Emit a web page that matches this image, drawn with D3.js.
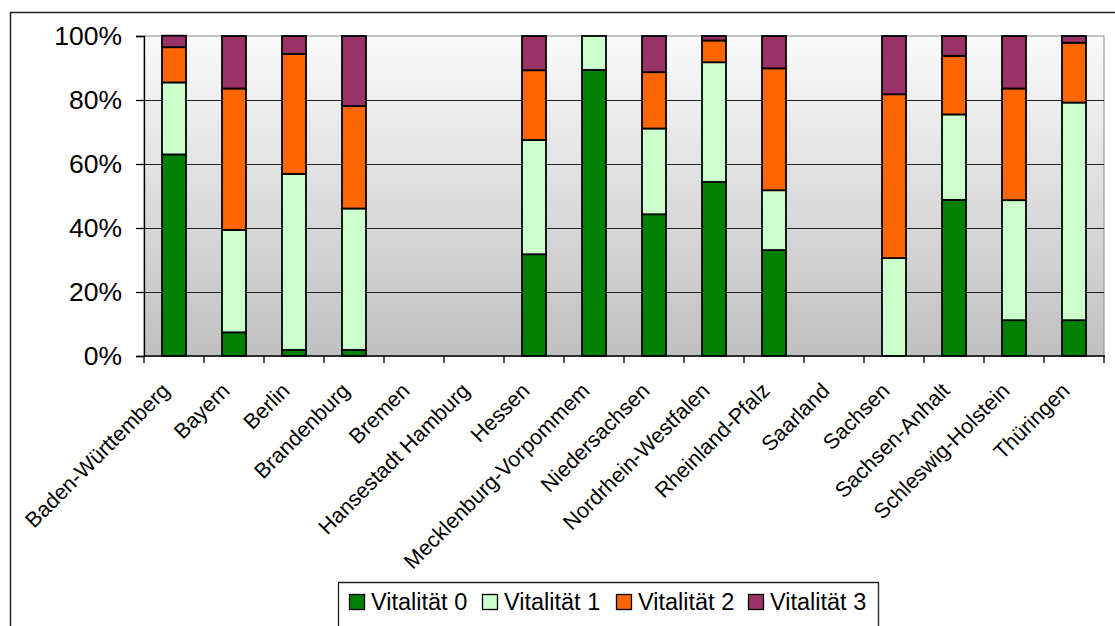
<!DOCTYPE html>
<html>
<head>
<meta charset="utf-8">
<script src="https://cdn.jsdelivr.net/npm/d3@7/dist/d3.min.js"></script>
<style>
  html, body { margin: 0; padding: 0; background: #fff; }
  svg { display: block; font-family: "Liberation Sans", Arial, sans-serif; }
</style>
</head>
<body>
<svg id="chart" width="1115" height="626"></svg>
<script>
// Federal states (x categories)
const states = [
  "Baden-Württemberg", "Bayern", "Berlin", "Brandenburg", "Bremen",
  "Hansestadt Hamburg", "Hessen", "Mecklenburg-Vorpommem", "Niedersachsen",
  "Nordrhein-Westfalen", "Rheinland-Pfalz", "Saarland", "Sachsen",
  "Sachsen-Anhalt", "Schleswig-Holstein", "Thüringen"
];

// Share of trees per vitality class (percent)
const vitalitaet0 = [63.0, 7.4, 1.9, 1.9, 0, 0, 31.8, 89.4, 44.3, 54.4, 33.1, 0, 0, 48.8, 11.2, 11.2];
const vitalitaet1 = [22.5, 32.0, 55.0, 44.2, 0, 0, 35.7, 10.6, 26.8, 37.4, 18.7, 0, 30.6, 26.7, 37.5, 68.0];
const vitalitaet2 = [11.0, 44.2, 37.5, 32.0, 0, 0, 21.8, 0, 17.6, 6.8, 38.1, 0, 51.2, 18.3, 34.9, 18.7];
const vitalitaet3 = [3.6, 16.4, 5.6, 21.9, 0, 0, 10.7, 0, 11.3, 1.4, 10.1, 0, 18.2, 6.2, 16.4, 2.1];

const seriesNames = ["Vitalität 0", "Vitalität 1", "Vitalität 2", "Vitalität 3"];
const seriesColors = ["#008000", "#ccffcc", "#ff6600", "#993366"];
const yTickValues = [0, 20, 40, 60, 80, 100];

const rows = states.map((s, i) => ({
  state: s,
  "Vitalität 0": vitalitaet0[i],
  "Vitalität 1": vitalitaet1[i],
  "Vitalität 2": vitalitaet2[i],
  "Vitalität 3": vitalitaet3[i]
}));

const svg = d3.select("#chart");
const plot = { left: 144, right: 1104, top: 36, bottom: 356 };

// outer chart frame
svg.append("path")
  .attr("d", "M1116,12.5 H10.5 V627")
  .attr("fill", "none")
  .attr("stroke", "#222")
  .attr("stroke-width", 1.5);

// plot background gradient
const defs = svg.append("defs");
const grad = defs.append("linearGradient")
  .attr("id", "bg").attr("x1", 0).attr("y1", 0).attr("x2", 0).attr("y2", 1);
grad.append("stop").attr("offset", "0%").attr("stop-color", "#fafafa");
grad.append("stop").attr("offset", "100%").attr("stop-color", "#c0c0c0");

svg.append("rect")
  .attr("x", plot.left).attr("y", plot.top)
  .attr("width", plot.right - plot.left).attr("height", plot.bottom - plot.top)
  .attr("fill", "url(#bg)")
  .attr("stroke", "#8c8c8c").attr("stroke-width", 1);

const x = d3.scaleBand().domain(states).range([plot.left, plot.right]).paddingInner(0.6).paddingOuter(0.3);
const xTicks = d3.scaleBand().domain(states).range([plot.left, plot.right]);
const y = d3.scaleLinear().domain([0, 100]).range([plot.bottom, plot.top]);

// gridlines
svg.append("g")
  .selectAll("line")
  .data(yTickValues.filter(v => v > 0 && v < 100))
  .join("line")
  .attr("x1", plot.left).attr("x2", plot.right)
  .attr("y1", d => Math.round(y(d)) + 0.5).attr("y2", d => Math.round(y(d)) + 0.5)
  .attr("stroke", "#222").attr("stroke-width", 1);

// stacked bars
const stack = d3.stack().keys(seriesNames);
const layers = stack(rows);
svg.append("g")
  .selectAll("g")
  .data(layers)
  .join("g")
  .attr("fill", (d, i) => seriesColors[i])
  .selectAll("rect")
  .data(d => d.filter(p => p[1] - p[0] > 0))
  .join("rect")
  .attr("x", d => x(d.data.state) + (x.bandwidth() - 24) / 2)
  .attr("width", 24)
  .attr("y", d => y(d[1]))
  .attr("height", d => y(d[0]) - y(d[1]))
  .attr("stroke", "#000")
  .attr("stroke-width", 1.8);

// y axis
const yAxis = svg.append("g")
  .attr("transform", `translate(${plot.left},0)`)
  .call(d3.axisLeft(y).tickValues(yTickValues).tickFormat(d => d + "%").tickSize(8).tickPadding(14));
yAxis.select(".domain").attr("stroke", "#000").attr("stroke-width", 1.3);
yAxis.selectAll(".tick line").attr("stroke", "#000").attr("stroke-width", 1.3);
yAxis.selectAll(".tick text")
  .attr("font-family", "Liberation Sans, Arial, sans-serif")
  .attr("font-size", 26.5).attr("fill", "#000");

// x axis with ticks on category boundaries
const xAxisG = svg.append("g");
xAxisG.append("line")
  .attr("x1", plot.left).attr("x2", plot.right + 1)
  .attr("y1", plot.bottom).attr("y2", plot.bottom)
  .attr("stroke", "#000").attr("stroke-width", 1.3);
xAxisG.selectAll("line.tk")
  .data(states.concat(["_end"]))
  .join("line")
  .attr("class", "tk")
  .attr("x1", (d, i) => plot.left + i * xTicks.step()).attr("x2", (d, i) => plot.left + i * xTicks.step())
  .attr("y1", plot.bottom).attr("y2", plot.bottom + 7)
  .attr("stroke", "#000").attr("stroke-width", 1.3);

// rotated category labels
xAxisG.selectAll("text")
  .data(states)
  .join("text")
  .attr("transform", d => `translate(${x(d) + x.bandwidth() / 2 - 3},${plot.bottom + 36}) rotate(-45)`)
  .attr("text-anchor", "end")
  .attr("font-size", 21.5)
  .attr("fill", "#000")
  .text(d => d);

// legend
const legend = svg.append("g");
legend.append("path")
  .attr("d", "M338.5,627 V582.5 H878.5 V627")
  .attr("fill", "#fff")
  .attr("stroke", "#222").attr("stroke-width", 1.3);
const legendX = [349, 482, 616, 748];
const items = legend.selectAll("g.item")
  .data(seriesNames)
  .join("g")
  .attr("class", "item")
  .attr("transform", (d, i) => `translate(${legendX[i]},0)`);
items.append("rect")
  .attr("x", 0.5).attr("y", 594.5).attr("width", 15).attr("height", 15)
  .attr("fill", (d, i) => seriesColors[i])
  .attr("stroke", "#000").attr("stroke-width", 1.3);
items.append("text")
  .attr("x", 22).attr("y", 610)
  .attr("font-size", 23.5)
  .attr("fill", "#000")
  .text(d => d);
</script>
</body>
</html>
